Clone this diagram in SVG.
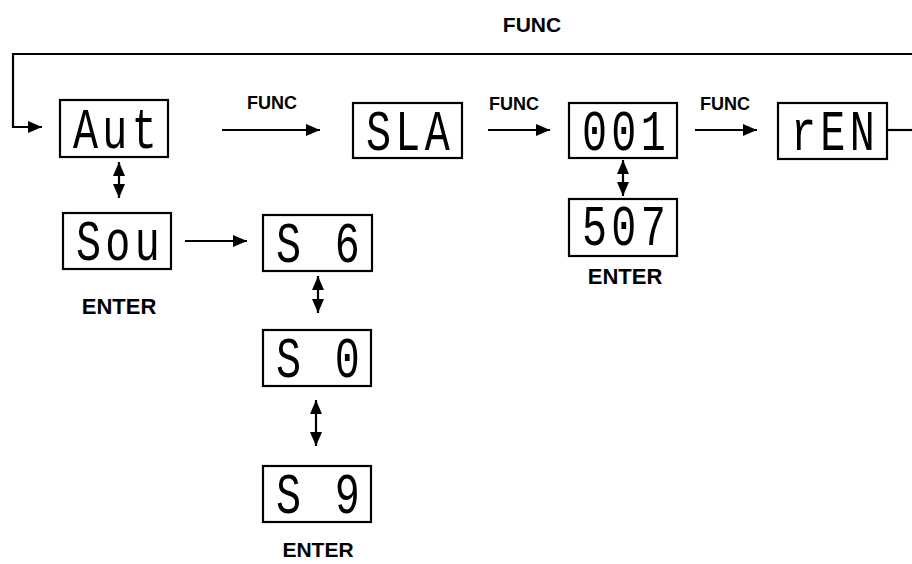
<svg xmlns="http://www.w3.org/2000/svg" width="912" height="564" viewBox="0 0 912 564">
<defs>
<marker id="ah" viewBox="0 0 14 12" refX="14" refY="6" markerWidth="14" markerHeight="12" markerUnits="userSpaceOnUse" orient="auto-start-reverse">
<path d="M0,0 L14,6 L0,12 Z" fill="#000"/>
</marker>
<style>
.box{fill:#fff;stroke:#000;stroke-width:2.2}
.seg{font-family:"Liberation Mono","DejaVu Sans Mono",monospace;font-size:58px;letter-spacing:6px;fill:#000;text-anchor:middle}
.lbl{font-family:"Liberation Sans",Arial,sans-serif;font-weight:bold;fill:#000;text-anchor:middle}
.ln{fill:none;stroke:#000;stroke-width:2.2}
.one{marker-end:url(#ah)}
.two{marker-start:url(#ah);marker-end:url(#ah)}
</style>
</defs>
<rect width="912" height="564" fill="#fff"/>
<g id="connectors">
<polyline class="ln one" points="912,54 13,54 13,127 42,127"/>
<line class="ln one" x1="222" y1="130" x2="320" y2="130"/>
<line class="ln one" x1="488" y1="130" x2="550" y2="130"/>
<line class="ln one" x1="695" y1="130" x2="757" y2="130"/>
<line class="ln" x1="887" y1="130" x2="912" y2="130"/>
<line class="ln two" x1="119" y1="162" x2="119" y2="198"/>
<line class="ln two" x1="623" y1="160" x2="623" y2="196"/>
<line class="ln one" x1="185" y1="241" x2="247" y2="241"/>
<line class="ln two" x1="318" y1="276" x2="318" y2="313"/>
<line class="ln two" x1="316" y1="400" x2="316" y2="446"/>
</g>
<g id="labels">
<text class="lbl" x="532" y="32" font-size="21">FUNC</text>
<text class="lbl" x="272" y="109" font-size="18">FUNC</text>
<text class="lbl" x="514" y="110" font-size="18">FUNC</text>
<text class="lbl" x="725" y="110" font-size="18">FUNC</text>
<text class="lbl" x="119" y="314" font-size="22">ENTER</text>
<text class="lbl" x="625" y="284" font-size="22">ENTER</text>
<text class="lbl" x="318" y="557" font-size="21">ENTER</text>
</g>
<g id="n-aut"><rect class="box" x="60" y="100" width="108" height="57"/><text class="seg" transform="translate(117,148) scale(0.72,1)">Aut</text></g>
<g id="n-sla"><rect class="box" x="353" y="103" width="109" height="55"/><text class="seg" transform="translate(410,150) scale(0.72,1)">SLA</text></g>
<g id="n-001"><rect class="box" x="569" y="103" width="108" height="55"/><text class="seg" transform="translate(626,150) scale(0.72,1)">001</text></g>
<g id="n-ren"><rect class="box" x="778" y="103" width="109" height="56"/><text class="seg" transform="translate(835,150) scale(0.72,1)">rEN</text></g>
<g id="n-507"><rect class="box" x="569" y="199" width="108" height="57"/><text class="seg" transform="translate(626,245) scale(0.72,1)">507</text></g>
<g id="n-sou"><rect class="box" x="63" y="213" width="108" height="56"/><text class="seg" transform="translate(120,260) scale(0.72,1)">Sou</text></g>
<g id="n-s6"><rect class="box" x="263" y="215" width="109" height="56"/><text class="seg" transform="translate(320,262) scale(0.72,1)">S 6</text></g>
<g id="n-s0"><rect class="box" x="263" y="330" width="108" height="56"/><text class="seg" transform="translate(320,377) scale(0.72,1)">S 0</text></g>
<g id="n-s9"><rect class="box" x="263" y="466" width="108" height="56"/><text class="seg" transform="translate(320,513) scale(0.72,1)">S 9</text></g>
</svg>
